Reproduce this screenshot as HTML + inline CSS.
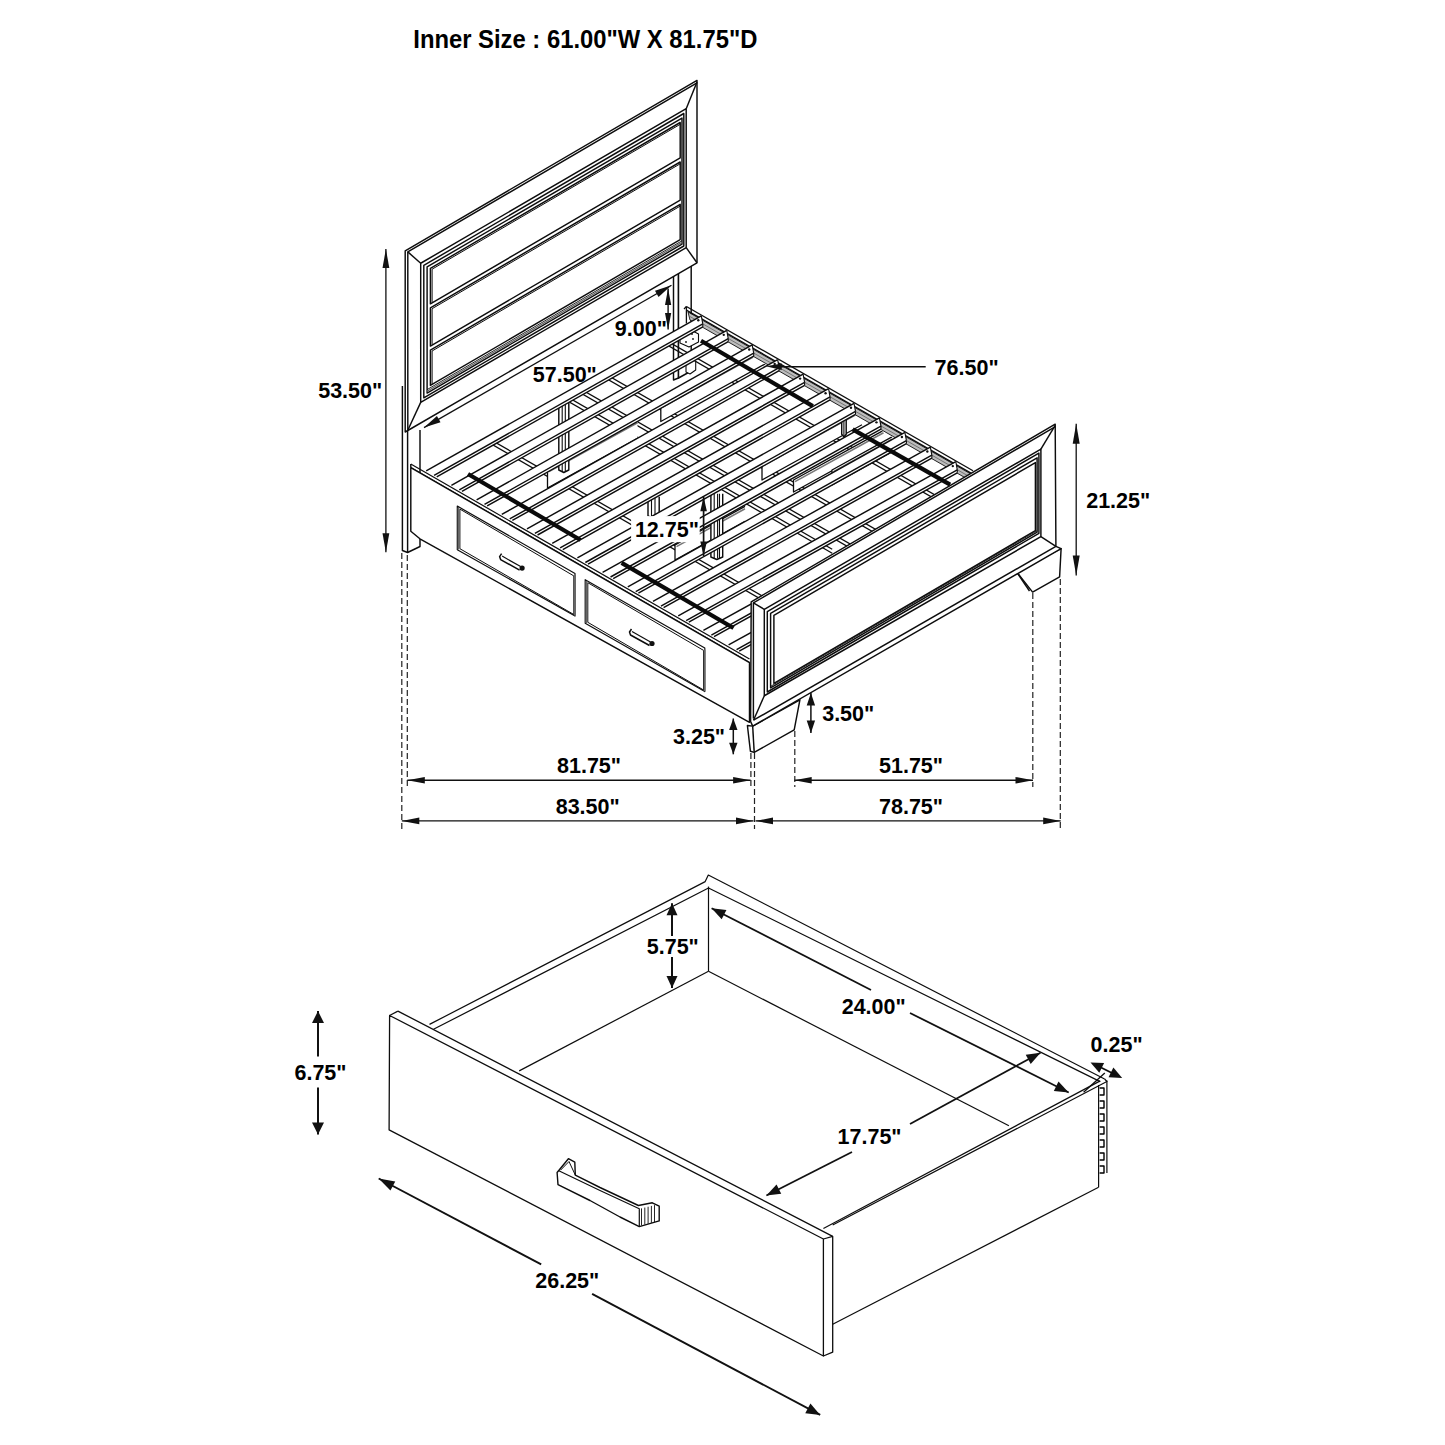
<!DOCTYPE html>
<html><head><meta charset="utf-8"><style>
html,body{margin:0;padding:0;background:#fff;}
svg{display:block;}
text{font-family:"Liberation Sans",sans-serif;font-weight:bold;fill:#000;}
</style></head><body>
<svg width="1445" height="1445" viewBox="0 0 1445 1445">
<rect width="1445" height="1445" fill="#fff"/>
<polyline points="402.4,386 402.4,550.5 407.6,552.5 420,546.5 420,430" fill="#fff" stroke="#0d0d0d" stroke-width="1.45" stroke-linejoin="round"/>
<line x1="407.6" y1="430" x2="407.6" y2="552.5" stroke="#0d0d0d" stroke-width="1.45"/>
<polyline points="673.5,262 673.5,380 678.5,378 678.5,262" fill="#fff" stroke="#0d0d0d" stroke-width="1.45" stroke-linejoin="round"/>
<polyline points="678.5,262 678.5,378 691.2,371 691.2,262" fill="#fff" stroke="#0d0d0d" stroke-width="1.45" stroke-linejoin="round"/>
<polygon points="405.2,250.8 697,80.39 697,262.79 405.2,432" fill="#fff" stroke="#0d0d0d" stroke-width="1.45" stroke-linejoin="round"/>
<polyline points="407.8,430.28 407.8,251.88 697,82.99" fill="none" stroke="#0d0d0d" stroke-width="1.45" stroke-linejoin="round"/>
<polygon points="420.7,263.25 686.2,108.7 686.2,247.7 420.7,402.35" fill="none" stroke="#0d0d0d" stroke-width="1.45" stroke-linejoin="round"/>
<line x1="407.8" y1="251.88" x2="420.7" y2="263.25" stroke="#0d0d0d" stroke-width="1.45"/>
<line x1="697" y1="81.99" x2="686.2" y2="108.7" stroke="#0d0d0d" stroke-width="1.45"/>
<line x1="697" y1="262.79" x2="686.2" y2="247.7" stroke="#0d0d0d" stroke-width="1.45"/>
<line x1="407.8" y1="430.28" x2="420.7" y2="402.35" stroke="#0d0d0d" stroke-width="1.45"/>
<polygon points="423.8,265.34 683.8,113.5 683.8,246 423.8,397.84" fill="none" stroke="#0d0d0d" stroke-width="1.45" stroke-linejoin="round"/>
<polygon points="427.1,266.91 682,118.05 682,244.15 427.1,393.01" fill="none" stroke="#0d0d0d" stroke-width="1.45" stroke-linejoin="round"/>
<polygon points="430.4,268.38 680.2,122.5 680.2,157.9 430.4,303.78" fill="none" stroke="#0d0d0d" stroke-width="1.45" stroke-linejoin="round"/>
<polyline points="432.1,302.29 432.1,269.19 680.2,124.3" fill="none" stroke="#0d0d0d" stroke-width="1" stroke-linejoin="round"/>
<polygon points="430.4,307.88 680.2,162 680.2,200.2 430.4,346.08" fill="none" stroke="#0d0d0d" stroke-width="1.45" stroke-linejoin="round"/>
<polyline points="432.1,344.59 432.1,308.69 680.2,163.8" fill="none" stroke="#0d0d0d" stroke-width="1" stroke-linejoin="round"/>
<polygon points="430.4,350.18 680.2,204.3 680.2,239.6 430.4,385.48" fill="none" stroke="#0d0d0d" stroke-width="1.45" stroke-linejoin="round"/>
<polyline points="432.1,383.99 432.1,350.99 680.2,206.1" fill="none" stroke="#0d0d0d" stroke-width="1" stroke-linejoin="round"/>
<line x1="427.1" y1="389.61" x2="682" y2="240.75" stroke="#0d0d0d" stroke-width="0.9"/>
<line x1="427.1" y1="391.21" x2="682" y2="242.35" stroke="#666" stroke-width="1.2"/>
<clipPath id="uc"><polygon points="420.2,473.9 701.3,315.8 705,330 985,490 760,660 420,470"/></clipPath><g clip-path="url(#uc)">
<line x1="486.5" y1="237.1" x2="1006.5" y2="536.1" stroke="#0d0d0d" stroke-width="1.3"/>
<line x1="486.5" y1="241.1" x2="1006.5" y2="540.1" stroke="#0d0d0d" stroke-width="1.3"/>
<line x1="452.2" y1="285.9" x2="972.2" y2="584.9" stroke="#0d0d0d" stroke-width="1.3"/>
<line x1="452.2" y1="289.9" x2="972.2" y2="588.9" stroke="#0d0d0d" stroke-width="1.3"/>
<line x1="453.3" y1="315.8" x2="973.3" y2="614.8" stroke="#0d0d0d" stroke-width="1.3"/>
<line x1="453.3" y1="319.8" x2="973.3" y2="618.8" stroke="#0d0d0d" stroke-width="1.3"/>
<line x1="312.2" y1="250.2" x2="832.2" y2="549.2" stroke="#0d0d0d" stroke-width="1.3"/>
<line x1="312.2" y1="254.2" x2="832.2" y2="553.2" stroke="#0d0d0d" stroke-width="1.3"/>
<line x1="286.6" y1="322.4" x2="806.6" y2="621.4" stroke="#0d0d0d" stroke-width="1.3"/>
<line x1="286.6" y1="326.4" x2="806.6" y2="625.4" stroke="#0d0d0d" stroke-width="1.3"/>
<polyline points="663,405.2 704,381.9 760,350 760,353 704,385 663,408.5" fill="#777" stroke="#333" stroke-width="0.8" stroke-linejoin="round"/>
<polyline points="770.8,344.98 660.8,405.7 660.8,421.5 770.8,360.78" fill="#fff" stroke="#0d0d0d" stroke-width="1.3" stroke-linejoin="round"/>
<line x1="662.3" y1="407.3" x2="770.8" y2="347.41" stroke="#777" stroke-width="1.6"/>
<polyline points="862,408.8 762,464 762,480 862,424.8" fill="#fff" stroke="#0d0d0d" stroke-width="1.3" stroke-linejoin="round"/>
<line x1="763.5" y1="465.6" x2="862" y2="411.23" stroke="#777" stroke-width="1.6"/>
<polyline points="883.5,430.32 793.5,480 793.5,492 883.5,442.32" fill="#fff" stroke="#0d0d0d" stroke-width="1.3" stroke-linejoin="round"/>
<line x1="795" y1="481.6" x2="883.5" y2="432.75" stroke="#777" stroke-width="1.6"/>
<polyline points="637.5,420.32 547.5,470 547.5,488 637.5,438.32" fill="#fff" stroke="#0d0d0d" stroke-width="1.3" stroke-linejoin="round"/>
<line x1="549" y1="471.6" x2="637.5" y2="422.75" stroke="#777" stroke-width="1.6"/>
<polyline points="745,506.36 675,545 675,560 745,521.36" fill="#fff" stroke="#0d0d0d" stroke-width="1.3" stroke-linejoin="round"/>
<line x1="676.5" y1="546.6" x2="745" y2="508.79" stroke="#777" stroke-width="1.6"/>
<polyline points="892,436.88 832,470 832,485 892,451.88" fill="#fff" stroke="#0d0d0d" stroke-width="1.3" stroke-linejoin="round"/>
<line x1="833.5" y1="471.6" x2="892" y2="439.31" stroke="#777" stroke-width="1.6"/>
<polyline points="558.8,403 558.8,470 563.8,472.5 568.8,470 568.8,403" fill="#fff" stroke="#0d0d0d" stroke-width="1.45" stroke-linejoin="round"/>
<line x1="562.2" y1="403" x2="562.2" y2="471.5" stroke="#0d0d0d" stroke-width="1.1"/>
<line x1="565.3" y1="403" x2="565.3" y2="471.5" stroke="#0d0d0d" stroke-width="1.1"/>
<polyline points="710.9,493.7 710.9,557 716.8,559.5 722.7,557 722.7,493.7" fill="#fff" stroke="#0d0d0d" stroke-width="1.45" stroke-linejoin="round"/>
<line x1="714.2" y1="493.7" x2="714.2" y2="558.5" stroke="#0d0d0d" stroke-width="1.1"/>
<line x1="717.6" y1="493.7" x2="717.6" y2="558.5" stroke="#0d0d0d" stroke-width="1.1"/>
<line x1="719.5" y1="493.7" x2="719.5" y2="558.5" stroke="#0d0d0d" stroke-width="1.1"/>
<polyline points="648,496.8 648,516 653.6,518.5 659.2,516 659.2,496.8" fill="#fff" stroke="#0d0d0d" stroke-width="1.45" stroke-linejoin="round"/>
<line x1="651.5" y1="496.8" x2="651.5" y2="517.5" stroke="#0d0d0d" stroke-width="1.1"/>
<line x1="655" y1="496.8" x2="655" y2="517.5" stroke="#0d0d0d" stroke-width="1.1"/>
<polyline points="841.7,418.8 841.7,434.3 843.95,436.8 846.2,434.3 846.2,418.8" fill="#fff" stroke="#0d0d0d" stroke-width="1.45" stroke-linejoin="round"/>
<line x1="843.9" y1="418.8" x2="843.9" y2="435.8" stroke="#0d0d0d" stroke-width="1.1"/>
<polygon points="680,334 690,329.5 698.5,334 698.5,342 689,347 680,343" fill="#fff" stroke="#0d0d0d" stroke-width="1.1" stroke-linejoin="round"/>
<circle cx="685" cy="336" r="0.9" fill="#111"/>
<circle cx="692" cy="334" r="0.9" fill="#111"/>
<circle cx="686" cy="342" r="0.9" fill="#111"/>
<circle cx="693" cy="339" r="0.9" fill="#111"/>
<polygon points="686,362 692,359 695.7,361.5 695.7,370 690,374 686,372" fill="#fff" stroke="#0d0d0d" stroke-width="1.1" stroke-linejoin="round"/>
</g>
<polygon points="688,311.92 972,474.65 970,480.5 690,320.06" fill="#bcbcbc" stroke="#0d0d0d" stroke-width="0.9" stroke-linejoin="round"/>
<line x1="690" y1="316.56" x2="970" y2="477" stroke="#555" stroke-width="0.7"/>
<line x1="686.4" y1="306.5" x2="973" y2="470.72" stroke="#0d0d0d" stroke-width="1.35"/>
<line x1="686.4" y1="310.1" x2="971" y2="473.18" stroke="#0d0d0d" stroke-width="1.3"/>
<line x1="686.4" y1="306.5" x2="686.4" y2="323.5" stroke="#0d0d0d" stroke-width="1.3"/>
<line x1="684" y1="309" x2="686.4" y2="306.5" stroke="#0d0d0d" stroke-width="1.2"/>
<polygon points="426.2,470.9 701.3,315.8 702.8,323.95 702.8,326.95 436.73,476.96" fill="#fff" stroke="#fff" stroke-width="0.01" stroke-linejoin="round"/>
<line x1="426.2" y1="470.9" x2="701.3" y2="315.8" stroke="#0d0d0d" stroke-width="1.45"/>
<line x1="434.1" y1="475.45" x2="702.8" y2="323.95" stroke="#0d0d0d" stroke-width="1.45"/>
<line x1="436.73" y1="476.96" x2="702.8" y2="326.95" stroke="#0d0d0d" stroke-width="1.45"/>
<line x1="701.3" y1="315.8" x2="702.8" y2="323.95" stroke="#0d0d0d" stroke-width="1.1"/>
<line x1="702.8" y1="323.95" x2="702.8" y2="326.95" stroke="#0d0d0d" stroke-width="1.1"/>
<circle cx="698.3" cy="320.29" r="1.2" fill="#111"/>
<polygon points="451.4,485.41 726.75,330.38 728.25,338.54 728.25,341.54 461.94,491.47" fill="#fff" stroke="#fff" stroke-width="0.01" stroke-linejoin="round"/>
<line x1="451.4" y1="485.41" x2="726.75" y2="330.38" stroke="#0d0d0d" stroke-width="1.45"/>
<line x1="459.3" y1="489.95" x2="728.25" y2="338.54" stroke="#0d0d0d" stroke-width="1.45"/>
<line x1="461.94" y1="491.47" x2="728.25" y2="341.54" stroke="#0d0d0d" stroke-width="1.45"/>
<line x1="726.75" y1="330.38" x2="728.25" y2="338.54" stroke="#0d0d0d" stroke-width="1.1"/>
<line x1="728.25" y1="338.54" x2="728.25" y2="341.54" stroke="#0d0d0d" stroke-width="1.1"/>
<circle cx="723.75" cy="334.87" r="1.2" fill="#111"/>
<polygon points="476.6,499.91 752.2,344.97 753.7,353.12 753.7,356.12 487.15,505.98" fill="#fff" stroke="#fff" stroke-width="0.01" stroke-linejoin="round"/>
<line x1="476.6" y1="499.91" x2="752.2" y2="344.97" stroke="#0d0d0d" stroke-width="1.45"/>
<line x1="484.51" y1="504.46" x2="753.7" y2="353.12" stroke="#0d0d0d" stroke-width="1.45"/>
<line x1="487.15" y1="505.98" x2="753.7" y2="356.12" stroke="#0d0d0d" stroke-width="1.45"/>
<line x1="752.2" y1="344.97" x2="753.7" y2="353.12" stroke="#0d0d0d" stroke-width="1.1"/>
<line x1="753.7" y1="353.12" x2="753.7" y2="356.12" stroke="#0d0d0d" stroke-width="1.1"/>
<circle cx="749.2" cy="349.45" r="1.2" fill="#111"/>
<polygon points="501.8,514.42 777.65,359.55 779.15,367.71 779.15,370.71 512.35,520.49" fill="#fff" stroke="#fff" stroke-width="0.01" stroke-linejoin="round"/>
<line x1="501.8" y1="514.42" x2="777.65" y2="359.55" stroke="#0d0d0d" stroke-width="1.45"/>
<line x1="509.72" y1="518.97" x2="779.15" y2="367.71" stroke="#0d0d0d" stroke-width="1.45"/>
<line x1="512.35" y1="520.49" x2="779.15" y2="370.71" stroke="#0d0d0d" stroke-width="1.45"/>
<line x1="777.65" y1="359.55" x2="779.15" y2="367.71" stroke="#0d0d0d" stroke-width="1.1"/>
<line x1="779.15" y1="367.71" x2="779.15" y2="370.71" stroke="#0d0d0d" stroke-width="1.1"/>
<circle cx="774.65" cy="364.03" r="1.2" fill="#111"/>
<polygon points="527,528.92 803.1,374.13 804.6,382.29 804.6,385.29 537.56,535" fill="#fff" stroke="#fff" stroke-width="0.01" stroke-linejoin="round"/>
<line x1="527" y1="528.92" x2="803.1" y2="374.13" stroke="#0d0d0d" stroke-width="1.45"/>
<line x1="534.92" y1="533.48" x2="804.6" y2="382.29" stroke="#0d0d0d" stroke-width="1.45"/>
<line x1="537.56" y1="535" x2="804.6" y2="385.29" stroke="#0d0d0d" stroke-width="1.45"/>
<line x1="803.1" y1="374.13" x2="804.6" y2="382.29" stroke="#0d0d0d" stroke-width="1.1"/>
<line x1="804.6" y1="382.29" x2="804.6" y2="385.29" stroke="#0d0d0d" stroke-width="1.1"/>
<circle cx="800.1" cy="378.61" r="1.2" fill="#111"/>
<polygon points="552.2,543.43 828.55,388.71 830.05,396.87 830.05,399.87 562.77,549.51" fill="#fff" stroke="#fff" stroke-width="0.01" stroke-linejoin="round"/>
<line x1="552.2" y1="543.43" x2="828.55" y2="388.71" stroke="#0d0d0d" stroke-width="1.45"/>
<line x1="560.13" y1="547.99" x2="830.05" y2="396.87" stroke="#0d0d0d" stroke-width="1.45"/>
<line x1="562.77" y1="549.51" x2="830.05" y2="399.87" stroke="#0d0d0d" stroke-width="1.45"/>
<line x1="828.55" y1="388.71" x2="830.05" y2="396.87" stroke="#0d0d0d" stroke-width="1.1"/>
<line x1="830.05" y1="396.87" x2="830.05" y2="399.87" stroke="#0d0d0d" stroke-width="1.1"/>
<circle cx="825.55" cy="393.19" r="1.2" fill="#111"/>
<polygon points="577.4,557.93 854,403.3 855.5,411.46 855.5,414.46 587.98,564.02" fill="#fff" stroke="#fff" stroke-width="0.01" stroke-linejoin="round"/>
<line x1="577.4" y1="557.93" x2="854" y2="403.3" stroke="#0d0d0d" stroke-width="1.45"/>
<line x1="585.33" y1="562.5" x2="855.5" y2="411.46" stroke="#0d0d0d" stroke-width="1.45"/>
<line x1="587.98" y1="564.02" x2="855.5" y2="414.46" stroke="#0d0d0d" stroke-width="1.45"/>
<line x1="854" y1="403.3" x2="855.5" y2="411.46" stroke="#0d0d0d" stroke-width="1.1"/>
<line x1="855.5" y1="411.46" x2="855.5" y2="414.46" stroke="#0d0d0d" stroke-width="1.1"/>
<circle cx="851" cy="407.77" r="1.2" fill="#111"/>
<polygon points="602.6,572.44 879.45,417.88 880.95,426.04 880.95,429.04 613.18,578.53" fill="#fff" stroke="#fff" stroke-width="0.01" stroke-linejoin="round"/>
<line x1="602.6" y1="572.44" x2="879.45" y2="417.88" stroke="#0d0d0d" stroke-width="1.45"/>
<line x1="610.54" y1="577" x2="880.95" y2="426.04" stroke="#0d0d0d" stroke-width="1.45"/>
<line x1="613.18" y1="578.53" x2="880.95" y2="429.04" stroke="#0d0d0d" stroke-width="1.45"/>
<line x1="879.45" y1="417.88" x2="880.95" y2="426.04" stroke="#0d0d0d" stroke-width="1.1"/>
<line x1="880.95" y1="426.04" x2="880.95" y2="429.04" stroke="#0d0d0d" stroke-width="1.1"/>
<circle cx="876.45" cy="422.35" r="1.2" fill="#111"/>
<polygon points="627.8,586.94 904.9,432.46 906.4,440.63 906.4,443.63 638.39,593.04" fill="#fff" stroke="#fff" stroke-width="0.01" stroke-linejoin="round"/>
<line x1="627.8" y1="586.94" x2="904.9" y2="432.46" stroke="#0d0d0d" stroke-width="1.45"/>
<line x1="635.74" y1="591.51" x2="906.4" y2="440.63" stroke="#0d0d0d" stroke-width="1.45"/>
<line x1="638.39" y1="593.04" x2="906.4" y2="443.63" stroke="#0d0d0d" stroke-width="1.45"/>
<line x1="904.9" y1="432.46" x2="906.4" y2="440.63" stroke="#0d0d0d" stroke-width="1.1"/>
<line x1="906.4" y1="440.63" x2="906.4" y2="443.63" stroke="#0d0d0d" stroke-width="1.1"/>
<circle cx="901.9" cy="436.94" r="1.2" fill="#111"/>
<polygon points="653,601.45 930.35,447.05 931.85,455.21 931.85,458.21 663.6,607.55" fill="#fff" stroke="#fff" stroke-width="0.01" stroke-linejoin="round"/>
<line x1="653" y1="601.45" x2="930.35" y2="447.05" stroke="#0d0d0d" stroke-width="1.45"/>
<line x1="660.95" y1="606.02" x2="931.85" y2="455.21" stroke="#0d0d0d" stroke-width="1.45"/>
<line x1="663.6" y1="607.55" x2="931.85" y2="458.21" stroke="#0d0d0d" stroke-width="1.45"/>
<line x1="930.35" y1="447.05" x2="931.85" y2="455.21" stroke="#0d0d0d" stroke-width="1.1"/>
<line x1="931.85" y1="455.21" x2="931.85" y2="458.21" stroke="#0d0d0d" stroke-width="1.1"/>
<circle cx="927.35" cy="451.52" r="1.2" fill="#111"/>
<polygon points="678.2,615.95 955.8,461.63 957.3,469.79 957.3,472.79 688.81,622.06" fill="#fff" stroke="#fff" stroke-width="0.01" stroke-linejoin="round"/>
<line x1="678.2" y1="615.95" x2="955.8" y2="461.63" stroke="#0d0d0d" stroke-width="1.45"/>
<line x1="686.15" y1="620.53" x2="957.3" y2="469.79" stroke="#0d0d0d" stroke-width="1.45"/>
<line x1="688.81" y1="622.06" x2="957.3" y2="472.79" stroke="#0d0d0d" stroke-width="1.45"/>
<line x1="955.8" y1="461.63" x2="957.3" y2="469.79" stroke="#0d0d0d" stroke-width="1.1"/>
<line x1="957.3" y1="469.79" x2="957.3" y2="472.79" stroke="#0d0d0d" stroke-width="1.1"/>
<circle cx="952.8" cy="466.1" r="1.2" fill="#111"/>
<polygon points="703.4,630.46 981.25,476.21 982.75,484.38 982.75,487.38 714.01,636.56" fill="#fff" stroke="#fff" stroke-width="0.01" stroke-linejoin="round"/>
<line x1="703.4" y1="630.46" x2="981.25" y2="476.21" stroke="#0d0d0d" stroke-width="1.45"/>
<line x1="711.36" y1="635.04" x2="982.75" y2="484.38" stroke="#0d0d0d" stroke-width="1.45"/>
<line x1="714.01" y1="636.56" x2="982.75" y2="487.38" stroke="#0d0d0d" stroke-width="1.45"/>
<line x1="981.25" y1="476.21" x2="982.75" y2="484.38" stroke="#0d0d0d" stroke-width="1.1"/>
<line x1="982.75" y1="484.38" x2="982.75" y2="487.38" stroke="#0d0d0d" stroke-width="1.1"/>
<circle cx="978.25" cy="480.68" r="1.2" fill="#111"/>
<polygon points="728.6,644.96 1006.7,490.79 1008.2,498.96 1008.2,501.96 739.22,651.07" fill="#fff" stroke="#fff" stroke-width="0.01" stroke-linejoin="round"/>
<line x1="728.6" y1="644.96" x2="1006.7" y2="490.79" stroke="#0d0d0d" stroke-width="1.45"/>
<line x1="736.56" y1="649.55" x2="1008.2" y2="498.96" stroke="#0d0d0d" stroke-width="1.45"/>
<line x1="739.22" y1="651.07" x2="1008.2" y2="501.96" stroke="#0d0d0d" stroke-width="1.45"/>
<line x1="1006.7" y1="490.79" x2="1008.2" y2="498.96" stroke="#0d0d0d" stroke-width="1.1"/>
<line x1="1008.2" y1="498.96" x2="1008.2" y2="501.96" stroke="#0d0d0d" stroke-width="1.1"/>
<circle cx="1003.7" cy="495.26" r="1.2" fill="#111"/>
<line x1="468" y1="474" x2="580.5" y2="540" stroke="#0a0a0a" stroke-width="4.2"/>
<line x1="621.6" y1="562.9" x2="733.5" y2="628" stroke="#0a0a0a" stroke-width="4.2"/>
<line x1="701" y1="340.8" x2="812.8" y2="406.1" stroke="#0a0a0a" stroke-width="4.2"/>
<line x1="852.7" y1="429.4" x2="950.1" y2="484.7" stroke="#0a0a0a" stroke-width="4.2"/>
<polyline points="410.8,464 749.5,659" fill="none" stroke="#0d0d0d" stroke-width="1.2" stroke-linejoin="round"/>
<polyline points="410.8,467.6 749.5,662.6" fill="none" stroke="#0d0d0d" stroke-width="1.3" stroke-linejoin="round"/>
<polygon points="410.8,467.6 749.5,662.6 749.5,722.3 419.9,538.8 410.8,531.3" fill="#fff" stroke="#0d0d0d" stroke-width="1.45" stroke-linejoin="round"/>
<line x1="410.8" y1="464" x2="410.8" y2="467.6" stroke="#0d0d0d" stroke-width="1.45"/>
<polygon points="457.3,506.1 575,573.5 575,616.1 457.3,549.7" fill="none" stroke="#0d0d0d" stroke-width="1.2" stroke-linejoin="round"/>
<polygon points="459.9,509.1 573.8,575.9 573.8,614.5 459.9,548.7" fill="none" stroke="#0d0d0d" stroke-width="1" stroke-linejoin="round"/>
<line x1="458.5" y1="507.3" x2="458.5" y2="549.5" stroke="#666" stroke-width="1.6"/>
<line x1="574.8" y1="575" x2="574.8" y2="615.6" stroke="#666" stroke-width="1.6"/>
<polyline points="501.6,553.6 499.6,556.6 500.6,559.6 519.6,570.1" fill="none" stroke="#0d0d0d" stroke-width="1.5" stroke-linejoin="round"/>
<polyline points="502.1,556.1 520.6,566.6" fill="none" stroke="#0d0d0d" stroke-width="1.2" stroke-linejoin="round"/>
<circle cx="522.1" cy="568.1" r="2.6" fill="#111"/>
<polygon points="585.2,579.7 704.8,648 704.8,691.6 585.2,623.3" fill="none" stroke="#0d0d0d" stroke-width="1.2" stroke-linejoin="round"/>
<polygon points="587.8,582.7 703.6,650.4 703.6,690 587.8,622.3" fill="none" stroke="#0d0d0d" stroke-width="1" stroke-linejoin="round"/>
<line x1="586.4" y1="580.9" x2="586.4" y2="623.1" stroke="#666" stroke-width="1.6"/>
<line x1="704.6" y1="649.5" x2="704.6" y2="691.1" stroke="#666" stroke-width="1.6"/>
<polyline points="631.5,629 629.5,632 630.5,635 649.5,645.5" fill="none" stroke="#0d0d0d" stroke-width="1.5" stroke-linejoin="round"/>
<polyline points="632,631.5 650.5,642" fill="none" stroke="#0d0d0d" stroke-width="1.2" stroke-linejoin="round"/>
<circle cx="652" cy="643.5" r="2.6" fill="#111"/>
<polygon points="1012.6,572.8 1016.7,572 1032.6,592.1 1059.6,576.9 1061.1,548.6" fill="#fff" stroke="#0d0d0d" stroke-width="1.45" stroke-linejoin="round"/>
<line x1="1016.7" y1="572" x2="1029.5" y2="591" stroke="#0d0d0d" stroke-width="1.45"/>
<polygon points="747.4,725.5 750.4,751.2 754.2,752.4 794.2,729.9 799.9,699.8 752.7,726.1" fill="#fff" stroke="#0d0d0d" stroke-width="1.45" stroke-linejoin="round"/>
<line x1="752.7" y1="726.6" x2="754.2" y2="752.4" stroke="#0d0d0d" stroke-width="1.45"/>
<polygon points="751.2,601.8 1055.2,424.2 1055.9,546.4 1061.1,548.6 752.7,726.1 750.6,721.5" fill="#fff" stroke="#0d0d0d" stroke-width="1.45" stroke-linejoin="round"/>
<line x1="753.5" y1="720.2" x2="1055.9" y2="546.4" stroke="#0d0d0d" stroke-width="1.45"/>
<polyline points="753.4,718.52 753.4,602.92 1055.4,426.55" fill="none" stroke="#0d0d0d" stroke-width="1.45" stroke-linejoin="round"/>
<polygon points="764.3,609.35 1040.9,449.12 1040.9,536.62 764.3,695.75" fill="none" stroke="#0d0d0d" stroke-width="1.45" stroke-linejoin="round"/>
<line x1="753.4" y1="602.92" x2="764.3" y2="609.35" stroke="#0d0d0d" stroke-width="1.45"/>
<line x1="1055.2" y1="425.26" x2="1040.9" y2="449.12" stroke="#0d0d0d" stroke-width="1.45"/>
<line x1="1055.9" y1="546.4" x2="1040.9" y2="536.62" stroke="#0d0d0d" stroke-width="1.45"/>
<line x1="753.5" y1="720.2" x2="764.3" y2="695.75" stroke="#0d0d0d" stroke-width="1.45"/>
<polygon points="767.3,611.7 1038.9,453.08 1038.9,533.38 767.3,692" fill="none" stroke="#0d0d0d" stroke-width="1.45" stroke-linejoin="round"/>
<polygon points="770.6,613.47 1037.1,457.83 1037.1,532.23 770.6,687.87" fill="none" stroke="#0d0d0d" stroke-width="1.45" stroke-linejoin="round"/>
<polygon points="773.9,615.34 1035.4,462.63 1035.4,530.63 773.9,683.34" fill="none" stroke="#0d0d0d" stroke-width="1.45" stroke-linejoin="round"/>
<line x1="770.6" y1="686.37" x2="1037.1" y2="530.73" stroke="#0d0d0d" stroke-width="0.9"/>
<line x1="385.9" y1="249" x2="385.9" y2="552.2" stroke="#111" stroke-width="1.3"/>
<polygon points="385.9,249 389.3,268 382.5,268" fill="#111"/>
<polygon points="385.9,552.2 382.5,533.2 389.3,533.2" fill="#111"/>
<line x1="668.1" y1="288.5" x2="668.1" y2="329.4" stroke="#111" stroke-width="1.4"/>
<polygon points="668.1,288.5 671.2,305 665,305" fill="#111"/>
<polygon points="668.1,329.4 665,312.9 671.2,312.9" fill="#111"/>
<line x1="424" y1="427.6" x2="671.5" y2="285.3" stroke="#111" stroke-width="1.3"/>
<polygon points="424,427.6 436.94,416.01 440.53,422.25" fill="#111"/>
<polygon points="671.5,285.3 658.56,296.89 654.97,290.65" fill="#111"/>
<line x1="780" y1="366.7" x2="925.7" y2="366.7" stroke="#0d0d0d" stroke-width="1.4"/>
<polygon points="765.8,366.2 781.9,363.43 781.68,370.03" fill="#111"/>
<line x1="1076.2" y1="423.7" x2="1076.2" y2="575.6" stroke="#111" stroke-width="1.3"/>
<polygon points="1076.2,423.7 1079.7,443.7 1072.7,443.7" fill="#111"/>
<polygon points="1076.2,575.6 1072.7,555.6 1079.7,555.6" fill="#111"/>
<line x1="703.6" y1="496.8" x2="703.6" y2="556" stroke="#111" stroke-width="1.7"/>
<polygon points="703.6,496.8 706.9,511.3 700.3,511.3" fill="#111"/>
<polygon points="703.6,556 700.3,541.5 706.9,541.5" fill="#111"/>
<line x1="810.9" y1="693" x2="810.9" y2="733" stroke="#111" stroke-width="1.5"/>
<polygon points="810.9,693 815.1,705.5 806.7,705.5" fill="#111"/>
<polygon points="810.9,733 806.7,720.5 815.1,720.5" fill="#111"/>
<line x1="733.3" y1="718.5" x2="733.3" y2="754.3" stroke="#111" stroke-width="1.5"/>
<polygon points="733.3,718.5 737.5,730 729.1,730" fill="#111"/>
<polygon points="733.3,754.3 729.1,742.8 737.5,742.8" fill="#111"/>
<line x1="407.3" y1="780.3" x2="750.6" y2="780.3" stroke="#111" stroke-width="1.4"/>
<polygon points="407.3,780.3 424.8,777 424.8,783.6" fill="#111"/>
<polygon points="750.6,780.3 733.1,783.6 733.1,777" fill="#111"/>
<line x1="794.2" y1="780.3" x2="1033" y2="780.3" stroke="#111" stroke-width="1.4"/>
<polygon points="794.2,780.3 811.7,777 811.7,783.6" fill="#111"/>
<polygon points="1033,780.3 1015.5,783.6 1015.5,777" fill="#111"/>
<line x1="401.8" y1="820.9" x2="753.5" y2="820.9" stroke="#111" stroke-width="1.4"/>
<polygon points="401.8,820.9 419.3,817.6 419.3,824.2" fill="#111"/>
<polygon points="753.5,820.9 736,824.2 736,817.6" fill="#111"/>
<line x1="755.5" y1="820.9" x2="1060.7" y2="820.9" stroke="#111" stroke-width="1.4"/>
<polygon points="755.5,820.9 773,817.6 773,824.2" fill="#111"/>
<polygon points="1060.7,820.9 1043.2,824.2 1043.2,817.6" fill="#111"/>
<line x1="401.8" y1="553" x2="401.8" y2="829" stroke="#222" stroke-width="1.2" stroke-dasharray="6 3"/>
<line x1="407.3" y1="555" x2="407.3" y2="787" stroke="#222" stroke-width="1.2" stroke-dasharray="6 3"/>
<line x1="750.9" y1="753" x2="750.9" y2="787" stroke="#222" stroke-width="1.2" stroke-dasharray="6 3"/>
<line x1="754.5" y1="753" x2="754.5" y2="829" stroke="#222" stroke-width="1.2" stroke-dasharray="6 3"/>
<line x1="794.8" y1="731" x2="794.8" y2="787" stroke="#222" stroke-width="1.2" stroke-dasharray="6 3"/>
<line x1="1032.8" y1="593" x2="1032.8" y2="787" stroke="#222" stroke-width="1.2" stroke-dasharray="6 3"/>
<line x1="1060.3" y1="579" x2="1060.3" y2="829" stroke="#222" stroke-width="1.2" stroke-dasharray="6 3"/>
<line x1="389.6" y1="1015.5" x2="397.9" y2="1011.1" stroke="#0d0d0d" stroke-width="1.2"/>
<polyline points="429.5,1024.4 705.2,881.6 708.3,875 1104.6,1079" fill="none" stroke="#0d0d0d" stroke-width="1.2" stroke-linejoin="round"/>
<polyline points="433.5,1029.3 708.5,888 1100.2,1081.6" fill="none" stroke="#0d0d0d" stroke-width="1.2" stroke-linejoin="round"/>
<line x1="708.5" y1="886.6" x2="708.5" y2="971.3" stroke="#0d0d0d" stroke-width="1.2"/>
<line x1="519.2" y1="1070.9" x2="708.5" y2="971.3" stroke="#0d0d0d" stroke-width="1.2"/>
<line x1="708.5" y1="971.3" x2="1008.9" y2="1125.7" stroke="#0d0d0d" stroke-width="1.2"/>
<polyline points="1104.6,1079 1106.9,1081.5 832.7,1225" fill="none" stroke="#0d0d0d" stroke-width="1.2" stroke-linejoin="round"/>
<polyline points="1100.2,1080.9 823.4,1228.5" fill="none" stroke="#0d0d0d" stroke-width="1.2" stroke-linejoin="round"/>
<line x1="1106.9" y1="1080.5" x2="1106.9" y2="1173" stroke="#0d0d0d" stroke-width="1.2"/>
<line x1="1098.6" y1="1085" x2="1098.6" y2="1187.2" stroke="#0d0d0d" stroke-width="1.2"/>
<polyline points="1099.6,1088 1104,1088 1104,1095 1099.6,1095" fill="none" stroke="#000" stroke-width="1.4" stroke-linejoin="round"/>
<polyline points="1099.6,1101 1104,1101 1104,1108 1099.6,1108" fill="none" stroke="#000" stroke-width="1.4" stroke-linejoin="round"/>
<polyline points="1099.6,1114 1104,1114 1104,1121 1099.6,1121" fill="none" stroke="#000" stroke-width="1.4" stroke-linejoin="round"/>
<polyline points="1099.6,1127 1104,1127 1104,1134 1099.6,1134" fill="none" stroke="#000" stroke-width="1.4" stroke-linejoin="round"/>
<polyline points="1099.6,1140 1104,1140 1104,1147 1099.6,1147" fill="none" stroke="#000" stroke-width="1.4" stroke-linejoin="round"/>
<polyline points="1099.6,1153 1104,1153 1104,1160 1099.6,1160" fill="none" stroke="#000" stroke-width="1.4" stroke-linejoin="round"/>
<polyline points="1099.6,1166 1104,1166 1104,1173 1099.6,1173" fill="none" stroke="#000" stroke-width="1.4" stroke-linejoin="round"/>
<polyline points="1098.6,1187.2 832.7,1324.2" fill="none" stroke="#0d0d0d" stroke-width="1.2" stroke-linejoin="round"/>
<polygon points="389.6,1015.5 823.4,1239 823.4,1356 389.1,1129.9" fill="#fff" stroke="#0d0d0d" stroke-width="1.3" stroke-linejoin="round"/>
<polyline points="397.9,1011.1 832.7,1236.4 832.7,1352.2 823.4,1356" fill="none" stroke="#0d0d0d" stroke-width="1.3" stroke-linejoin="round"/>
<line x1="823.4" y1="1239" x2="832.7" y2="1236.4" stroke="#0d0d0d" stroke-width="1.2"/>
<polygon points="557.1,1172.5 568.4,1158.7 574.8,1162.1 575.3,1175.1 600,1187.5 638.4,1205.5 652.3,1202.8 659.2,1206.2 659.2,1220.9 639.3,1226.6 620,1217 590,1200.5 558,1184.6" fill="#fff" stroke="#0d0d0d" stroke-width="1.4" stroke-linejoin="round"/>
<polyline points="558.8,1170.8 600,1190.5 639.3,1208.8 639.3,1226" fill="none" stroke="#0d0d0d" stroke-width="1.2" stroke-linejoin="round"/>
<polyline points="560.5,1170.2 569,1161.5 575.3,1175.1" fill="none" stroke="#0d0d0d" stroke-width="1" stroke-linejoin="round"/>
<line x1="641.5" y1="1208.38" x2="641.5" y2="1225.38" stroke="#0d0d0d" stroke-width="0.9"/>
<line x1="644.8" y1="1207.55" x2="644.8" y2="1224.55" stroke="#0d0d0d" stroke-width="0.9"/>
<line x1="648.1" y1="1206.72" x2="648.1" y2="1223.72" stroke="#0d0d0d" stroke-width="0.9"/>
<line x1="651.4" y1="1205.9" x2="651.4" y2="1222.9" stroke="#0d0d0d" stroke-width="0.9"/>
<line x1="654.5" y1="1205.12" x2="654.5" y2="1222.12" stroke="#0d0d0d" stroke-width="0.9"/>
<line x1="318" y1="1011" x2="318" y2="1056.4" stroke="#111" stroke-width="2"/>
<polygon points="318,1011 324,1023 312,1023" fill="#111"/>
<line x1="318" y1="1087.5" x2="318" y2="1134.5" stroke="#111" stroke-width="2"/>
<polygon points="318,1134.5 312,1122.5 324,1122.5" fill="#111"/>
<line x1="672" y1="903.2" x2="672" y2="936" stroke="#111" stroke-width="2"/>
<polygon points="672,903.2 677.5,915.2 666.5,915.2" fill="#111"/>
<line x1="672" y1="957" x2="672" y2="987.9" stroke="#111" stroke-width="2"/>
<polygon points="672,987.9 666.5,975.9 677.5,975.9" fill="#111"/>
<line x1="711.6" y1="908.2" x2="871" y2="990" stroke="#111" stroke-width="1.8"/>
<polygon points="711.6,908.2 726.43,909.97 721.68,919.22" fill="#111"/>
<line x1="910" y1="1013" x2="1068.7" y2="1092.5" stroke="#111" stroke-width="1.8"/>
<polygon points="1068.7,1092.5 1053.85,1090.88 1058.51,1081.58" fill="#111"/>
<line x1="1040.5" y1="1052.7" x2="910" y2="1124" stroke="#111" stroke-width="1.8"/>
<polygon points="1040.5,1052.7 1030.71,1063.98 1025.72,1054.85" fill="#111"/>
<line x1="852" y1="1152" x2="766.4" y2="1195.5" stroke="#111" stroke-width="1.8"/>
<polygon points="766.4,1195.5 776.53,1184.52 781.24,1193.79" fill="#111"/>
<line x1="378.7" y1="1178.5" x2="541.2" y2="1264.4" stroke="#111" stroke-width="1.9"/>
<polygon points="378.7,1178.5 395.28,1181.38 390.42,1190.57" fill="#111"/>
<line x1="592.1" y1="1293.8" x2="820.2" y2="1414.9" stroke="#111" stroke-width="1.9"/>
<polygon points="820.2,1414.9 805.26,1413.19 810.41,1403.48" fill="#111"/>
<polygon points="1090.5,1062.4 1104.14,1062.96 1099.3,1072.84" fill="#111"/>
<polygon points="1122.2,1077.9 1108.55,1077.36 1113.38,1067.48" fill="#111"/>
<line x1="1096" y1="1065" x2="1116" y2="1075" stroke="#0d0d0d" stroke-width="1.8"/>
<line x1="1083.6" y1="1092.3" x2="1104.8" y2="1073" stroke="#0d0d0d" stroke-width="1.3"/>
<text transform="translate(413.3 48.3) scale(0.9526 1)" font-size="25" text-anchor="start">Inner Size : 61.00&quot;W X 81.75&quot;D</text>
<text x="318.2" y="398.3" font-size="21.5" text-anchor="start">53.50&quot;</text>
<text x="614.8" y="335.6" font-size="21.5" text-anchor="start">9.00&quot;</text>
<text x="532.8" y="381.5" font-size="21.5" text-anchor="start">57.50&quot;</text>
<text x="934.6" y="375.1" font-size="21.5" text-anchor="start">76.50&quot;</text>
<text x="1086.2" y="507.8" font-size="21.5" text-anchor="start">21.25&quot;</text>
<text x="822.2" y="721.4" font-size="21.5" text-anchor="start">3.50&quot;</text>
<text x="673" y="744" font-size="21.5" text-anchor="start">3.25&quot;</text>
<text x="557" y="773.4" font-size="21.5" text-anchor="start">81.75&quot;</text>
<text x="879" y="773.4" font-size="21.5" text-anchor="start">51.75&quot;</text>
<text x="555.7" y="813.5" font-size="21.5" text-anchor="start">83.50&quot;</text>
<text x="879" y="813.5" font-size="21.5" text-anchor="start">78.75&quot;</text>
<rect x="631.1" y="516.1" width="68.6" height="26.1" fill="#fff"/>
<text x="634.9" y="537.1" font-size="21.5" text-anchor="start">12.75&quot;</text>
<text transform="translate(646.8 953.7) scale(0.968 1)" font-size="22.2" text-anchor="start">5.75&quot;</text>
<text transform="translate(841.7 1013.9) scale(0.968 1)" font-size="22.2" text-anchor="start">24.00&quot;</text>
<text transform="translate(1090.6 1051.6) scale(0.968 1)" font-size="22.2" text-anchor="start">0.25&quot;</text>
<text transform="translate(294.5 1079.7) scale(0.968 1)" font-size="22.2" text-anchor="start">6.75&quot;</text>
<text transform="translate(837.6 1144.2) scale(0.968 1)" font-size="22.2" text-anchor="start">17.75&quot;</text>
<text transform="translate(535.3 1288.3) scale(0.968 1)" font-size="22.2" text-anchor="start">26.25&quot;</text>
</svg>
</body></html>
